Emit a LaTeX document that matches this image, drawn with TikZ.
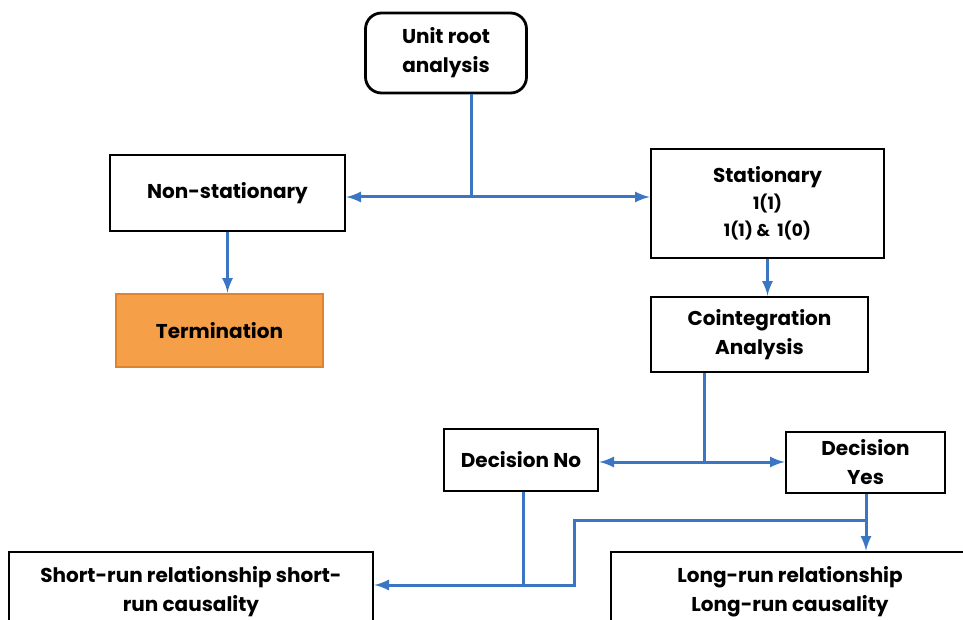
\documentclass[tikz,border=0pt]{standalone}
\usepackage{fontspec}
\setmainfont{Poppins}
\usetikzlibrary{positioning}
\definecolor{linkblue}{RGB}{58,118,196}
\definecolor{termfill}{RGB}{245,160,72}
\definecolor{termedge}{RGB}{222,132,48}
\begin{document}
\begin{tikzpicture}[x=0.5pt, y=-0.5pt]
 \tikzstyle{box}=[rectangle, draw, line width=1.4pt, text=black, align=center, font=\bfseries\fontsize{10}{14.5}\selectfont, inner sep=2pt]
 \tikzstyle{estun}=[->, >=latex, line width=1.5pt, linkblue]
 \tikzstyle{link}=[-, line width=1.5pt, linkblue]
 \clip (0,0) rectangle (963,620);
 \fill[white] (0,0) rectangle (963,620);
 %
 \node[box, rounded corners=8pt, minimum width=80.5pt, minimum height=40pt] (unit) at (446,53) {Unit root\\analysis};
 \node[box, minimum width=117.5pt, minimum height=38pt] (nonstat) at (227.5,193) {Non-stationary};
 \node[box, minimum width=116.5pt, minimum height=54.5pt] (stat) at (767.5,203.5) {Stationary\\[-1pt]{\fontsize{8.5}{12.5}\selectfont 1(1)}\\[-1pt]{\fontsize{8.5}{12.5}\selectfont 1(1) \&\ \ 1(0)}};
 %
 \node[box, fill=termfill, draw=termedge, minimum width=103.5pt, minimum height=36.5pt] (term) at (219.5,330.5) {Termination};
 \node[box, minimum width=108.5pt, minimum height=37.5pt] (coint) at (759.5,334.5) {Cointegration\\Analysis};
 %
 \node[box, minimum width=77pt, minimum height=31pt] (decno) at (521,460) {Decision No};
 \node[box, minimum width=79.5pt, minimum height=30.5pt] (decyes) at (865.5,462.5) {Decision\\Yes};
 %
 \node[box, minimum width=182pt, minimum height=40pt] (short) at (191,592) {Short-run relationship short-\\run causality};
 \node[box, minimum width=179pt, minimum height=40pt] (long) at (790,592) {Long-run relationship\\Long-run causality};
 %%
 \coordinate (ua) at (471,197);
 \coordinate (cb) at (704,462);
 \coordinate (nb) at (523,585);
 \coordinate (yb) at (866,520);
 \coordinate (yk) at (574,585);
 %%
 \draw[link] (unit.south -| ua)--(ua);
 \draw[estun] (ua)--(ua -| nonstat.east);
 \draw[estun] (ua)--(ua -| stat.west);
 \draw[estun] (nonstat.south)--(nonstat.south |- term.north);
 \draw[estun] (stat.south)--(stat.south |- coint.north);
 \draw[link] (coint.south -| cb)--(cb);
 \draw[estun] (cb)--(cb -| decno.east);
 \draw[estun] (cb)--(cb -| decyes.west);
 \draw[link] (decno.south -| nb)--(nb);
 \draw[estun] (nb)--(nb -| short.east);
 \draw[estun] (decyes.south -| yb)--(yb |- long.north);
 \draw[link] (yb) -| (yk)--(nb);
\end{tikzpicture}
\end{document}
